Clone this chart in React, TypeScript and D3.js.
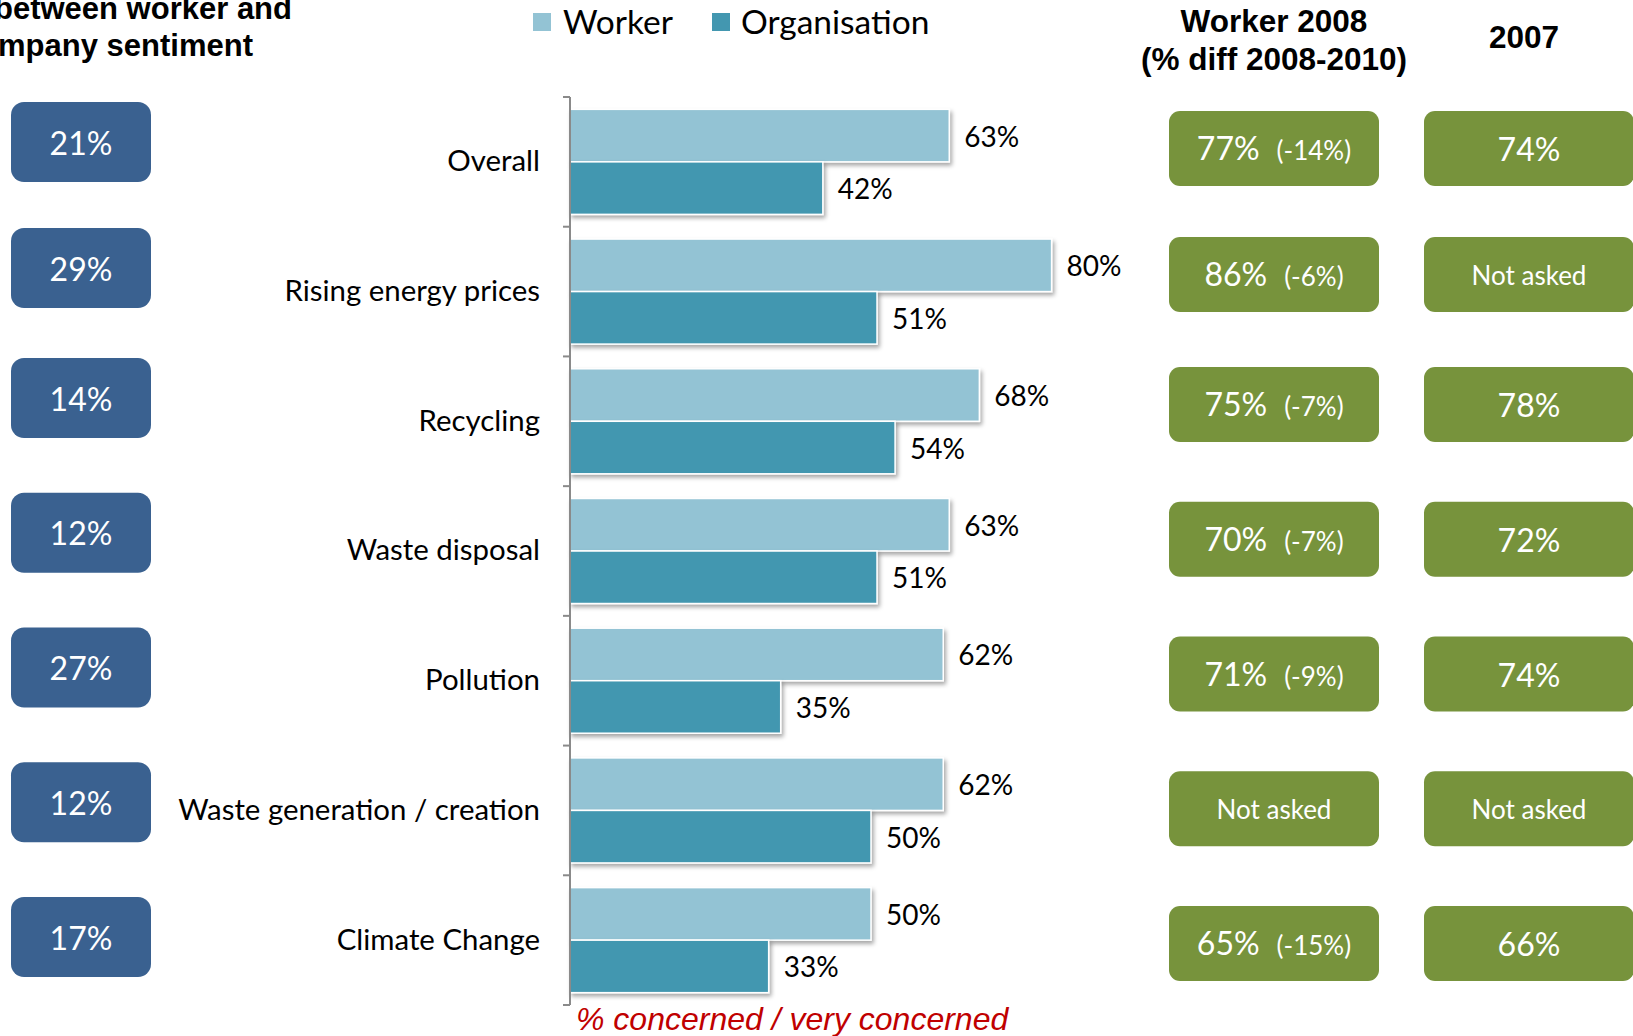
import * as d3 from "d3";

const categories = [
  "Overall",
  "Rising energy prices",
  "Recycling",
  "Waste disposal",
  "Pollution",
  "Waste generation / creation",
  "Climate Change",
];
const series = ["Worker", "Organisation"];
const workerValues = [63, 80, 68, 63, 62, 62, 50];
const orgValues = [42, 51, 54, 51, 35, 50, 33];
const gapValues = [21, 29, 14, 12, 27, 12, 17];
const worker2008 = ["77%", "86%", "75%", "70%", "71%", "Not asked", "65%"];
const diff2008 = ["(-14%)", "(-6%)", "(-7%)", "(-7%)", "(-9%)", "", "(-15%)"];
const values2007 = ["74%", "Not asked", "78%", "72%", "74%", "Not asked", "66%"];

const W = 1633;
const H = 1036;
const colors = { Worker: "#93c3d4", Organisation: "#4397b0" };
const calibri = "Lato, 'Open Sans', sans-serif";
const arial = "'Liberation Sans', Arial, sans-serif";

export default function App() {
  const x = d3.scaleLinear().domain([0, 100]).range([570, 1172]);
  const y = d3.scaleBand().domain(categories).range([97, 1005]).padding(0);
  const sub = d3
    .scaleBand()
    .domain(series)
    .range([0, y.bandwidth()])
    .paddingInner(0)
    .paddingOuter(0.235);
  // side boxes have their own row spacing (first rows a bit tighter)
  const rowY = d3.scaleLinear().domain([0, 1, 2, 6]).range([142, 268, 398, 937]);

  const rowsData = categories.map((c, i) => ({
    cat: c,
    Worker: workerValues[i],
    Organisation: orgValues[i],
  }));
  const boundaries = categories.map((c) => y(c)).concat([y.range()[1]]);

  return (
    <svg
      width={W}
      height={H}
      style={{ position: "absolute", left: 0, top: 0, background: "#fff" }}
    >
      <defs>
        <filter id="shadow" x="-5%" y="-20%" width="115%" height="160%">
          <feDropShadow dx="2" dy="3" stdDeviation="2" floodColor="#000" floodOpacity="0.35" />
        </filter>
      </defs>

      {/* left header, cut by the slide edge */}
      <g fontFamily={arial} fontWeight="bold" fontSize={31} fill="#000" textAnchor="end">
        <text x={292} y={19}>between worker and</text>
        <text x={253} y={56}>company sentiment</text>
      </g>

      {/* legend */}
      <g fontFamily={calibri} fontSize={33.5} fill="#000">
        <rect x={533} y={13} width={18} height={18} fill={colors.Worker} />
        <text x={563} y={21} dominantBaseline="central">Worker</text>
        <rect x={712} y={13} width={18} height={18} fill={colors.Organisation} />
        <text x={741} y={21} dominantBaseline="central">Organisation</text>
      </g>

      {/* right headers */}
      <g fontFamily={arial} fontWeight="bold" fontSize={31.5} fill="#000" textAnchor="middle">
        <text x={1274} y={32}>Worker 2008</text>
        <text x={1274} y={70}>(% diff 2008-2010)</text>
        <text x={1524} y={48}>2007</text>
      </g>

      {/* bars */}
      {rowsData.map((d) => (
        <g key={d.cat} transform={`translate(0,${y(d.cat)})`}>
          {series.map((s) => (
            <g key={s}>
              <rect
                x={x(0)}
                y={sub(s)}
                width={x(d[s]) - x(0)}
                height={sub.bandwidth()}
                fill={colors[s]}
                stroke="#fff"
                strokeWidth={1.5}
                filter="url(#shadow)"
              />
              <text
                x={x(d[s]) + 15}
                y={sub(s) + sub.bandwidth() / 2}
                dominantBaseline="central"
                fontFamily={calibri}
                fontSize={28}
                fill="#000"
              >
                {d[s]}%
              </text>
            </g>
          ))}
          <text
            x={540}
            y={y.bandwidth() / 2 - 2}
            textAnchor="end"
            dominantBaseline="central"
            fontFamily={calibri}
            fontSize={29.4}
            fill="#000"
          >
            {d.cat}
          </text>
        </g>
      ))}

      {/* category axis */}
      <g stroke="#8a8a8a" strokeWidth={2}>
        <line x1={x(0)} x2={x(0)} y1={y.range()[0]} y2={y.range()[1]} />
        {boundaries.map((b, i) => (
          <line key={i} x1={x(0) - 7} x2={x(0)} y1={b} y2={b} />
        ))}
      </g>

      {/* gap boxes */}
      {categories.map((c, i) => (
        <g key={c} transform={`translate(0,${rowY(i)})`}>
          <rect x={11} y={-40} width={140} height={80} rx={13} fill="#3a6190" />
          <text
            x={81}
            y={0}
            textAnchor="middle"
            dominantBaseline="central"
            fontFamily={calibri}
            fontSize={32}
            fill="#fff"
          >
            {gapValues[i]}%
          </text>
        </g>
      ))}

      {/* 2008 and 2007 boxes */}
      {categories.map((c, i) => (
        <g key={c} transform={`translate(0,${rowY(i) + 6.5})`} fontFamily={calibri} fill="#fff">
          <rect x={1169} y={-37.5} width={210} height={75} rx={11} fill="#77933c" />
          <rect x={1424} y={-37.5} width={210} height={75} rx={11} fill="#77933c" />
          {worker2008[i] === "Not asked" ? (
            <text x={1274} y={0} textAnchor="middle" dominantBaseline="central" fontSize={26}>
              Not asked
            </text>
          ) : (
            <text x={1274} y={11.5} textAnchor="middle" fontSize={32}>
              {worker2008[i]}
              <tspan dx={17} fontSize={26}>{diff2008[i]}</tspan>
            </text>
          )}
          <text
            x={1529}
            y={0}
            textAnchor="middle"
            dominantBaseline="central"
            fontSize={values2007[i] === "Not asked" ? 26 : 32}
          >
            {values2007[i]}
          </text>
        </g>
      ))}

      <text
        x={576}
        y={1030}
        fontFamily={arial}
        fontStyle="italic"
        fontSize={32}
        fill="#c00000"
      >
        % concerned / very concerned
      </text>
    </svg>
  );
}
